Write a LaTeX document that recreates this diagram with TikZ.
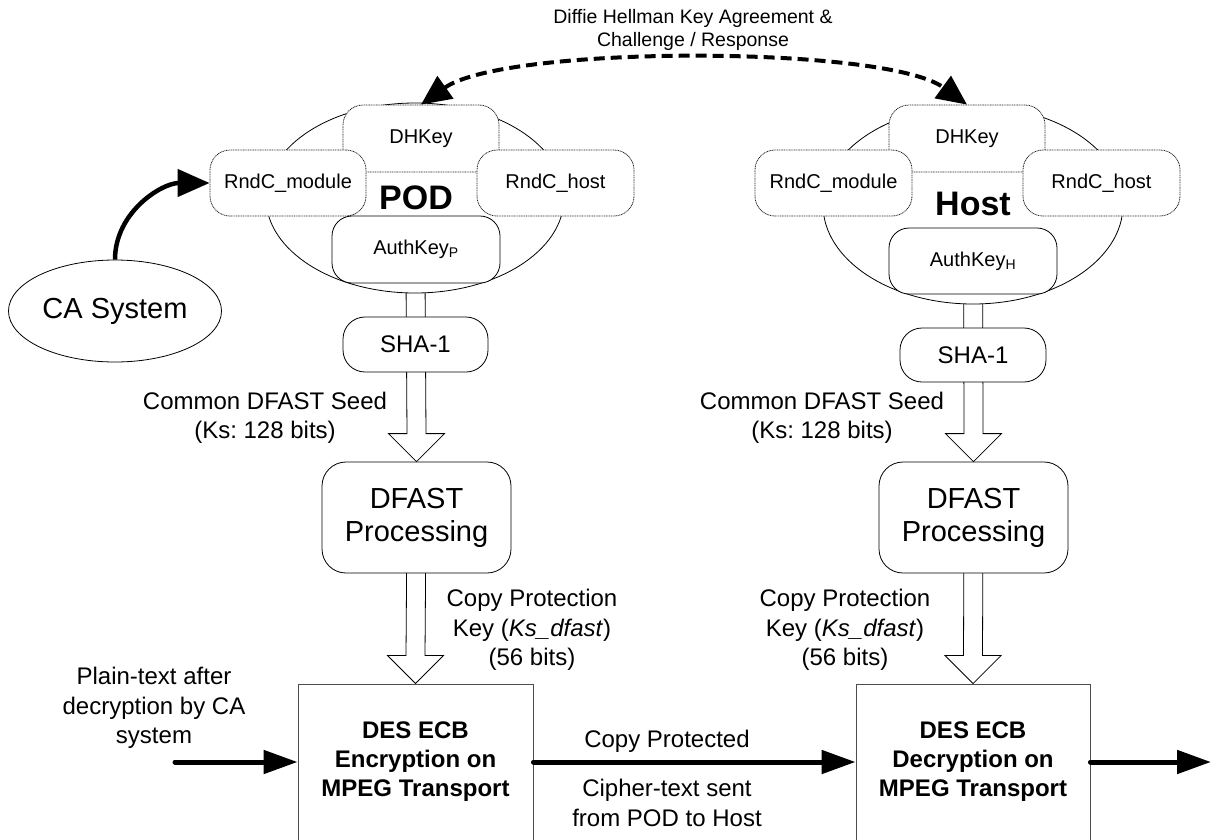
\documentclass[tikz,border=0pt]{standalone}
\usepackage{fontspec}
\setmainfont{Liberation Sans}
\usetikzlibrary{shapes.geometric,arrows.meta,calc,backgrounds}
\frenchspacing
\newcommand\fs[2]{\fontsize{#1}{#2}\selectfont}
\newcommand\hollowarr[2]{%
  \filldraw[fill=white, line width=0.8pt]
    ($(#1)+(-9.5pt,0pt)$) -- ($(#2)+(-9.5pt,28pt)$) -- ($(#2)+(-28pt,28pt)$) -- (#2)
    -- ($(#2)+(28pt,28pt)$) -- ($(#2)+(9.5pt,28pt)$) -- ($(#1)+(9.5pt,0pt)$) -- cycle;}
\begin{document}
\begin{tikzpicture}[x=1pt,y=-1pt,
  rbox/.style={draw, rounded corners=20pt, fill=white, inner sep=0pt, align=center, line width=0.8pt},
  dbox/.style={rbox, dash pattern=on 1pt off 0.7pt, draw=black!85, font=\fs{20}{24}},
  kbox/.style={rbox, font=\fs{20}{24}},
  sq/.style={draw=black!70, fill=white, line width=0.9pt, inner sep=0pt, align=center, font=\bfseries\fs{24}{29}},
  lbl/.style={align=center, inner sep=0pt, font=\fs{24}{29.5}},
  flow/.style={line width=5pt, line cap=round, -{Triangle[length=34pt,width=23pt]}},
  ell/.style={ellipse, draw, fill=white, line width=0.8pt, inner sep=0pt}]
\clip (0,0) rectangle (1211,839);

% POD side
\node[ell, minimum width=298pt, minimum height=190pt] (podell) at (415,198) {};
\node[dbox, minimum width=156pt, minimum height=67pt] (poddh) at (421,138.5) {DHKey};
\node[dbox, minimum width=156pt, minimum height=66pt] (podrm) at (288,183) {RndC\_module};
\node[dbox, minimum width=157pt, minimum height=66pt] (podrh) at (555.5,183) {RndC\_host};
\node[kbox, minimum width=168pt, minimum height=67pt] (podak) at (416,249.5) {AuthKey\textsubscript{P}};
\node[font=\bfseries\fs{34}{40}, inner sep=0pt] (podlbl) at (416,198) {POD};
\node[rbox, rounded corners=22pt, font=\fs{24}{29}, minimum width=145pt, minimum height=55pt] (podsha) at (415.5,344.5) {SHA-1};
\node[rbox, rounded corners=24pt, font=\fs{29}{33}, minimum width=189pt, minimum height=111pt] (poddf) at (416.5,517.5) {DFAST\\Processing};
\node[sq, minimum width=235pt, minimum height=156pt] (podenc) at (415.5,762) {DES ECB\\Encryption on\\MPEG Transport};

% Host side
\node[ell, minimum width=300pt, minimum height=198pt] (hostell) at (973,205) {};
\node[dbox, minimum width=156pt, minimum height=67pt] (hostdh) at (967,138.5) {DHKey};
\node[dbox, minimum width=157pt, minimum height=66pt] (hostrm) at (833.5,183) {RndC\_module};
\node[dbox, minimum width=157pt, minimum height=66pt] (hostrh) at (1101.5,183) {RndC\_host};
\node[kbox, minimum width=168pt, minimum height=66pt] (hostak) at (973,261) {AuthKey\textsubscript{H}};
\node[font=\bfseries\fs{34}{40}, inner sep=0pt] (hostlbl) at (973,203.5) {Host};
\node[rbox, rounded corners=22pt, font=\fs{24}{29}, minimum width=146pt, minimum height=54pt] (hostsha) at (973,355) {SHA-1};
\node[rbox, rounded corners=24pt, font=\fs{29}{33}, minimum width=189pt, minimum height=111pt] (hostdf) at (973.5,517.5) {DFAST\\Processing};
\node[sq, minimum width=234pt, minimum height=156pt] (hostdec) at (973,762) {DES ECB\\Decryption on\\MPEG Transport};

% CA system
\node[ell, minimum width=213pt, minimum height=102pt, font=\fs{29}{34}] (ca) at (115,311) {CA System};

% hollow arrows (behind boxes)
\begin{pgfonlayer}{background}
  \hollowarr{podell.center}{poddf.north}
  \hollowarr{poddf.center}{podenc.north}
  \hollowarr{hostell.center}{hostdf.north}
  \hollowarr{hostdf.center}{hostdec.north}
\end{pgfonlayer}

% labels
\node[lbl] (seedp) at (265,418) {Common DFAST Seed\\(Ks: 128 bits)};
\node[lbl] (seedh) at (822,418) {Common DFAST Seed\\(Ks: 128 bits)};
\node[lbl] (cpkp) at (532,630) {Copy Protection\\Key (\textit{Ks\_dfast})\\(56 bits)};
\node[lbl] (cpkh) at (845,630) {Copy Protection\\Key (\textit{Ks\_dfast})\\(56 bits)};
\node[lbl] (plain) at (154,708) {Plain-text after\\decryption by CA\\system};
\node[lbl, anchor=base] (cprot) at (667,747) {Copy Protected};
\node[lbl] (ciph) at (667,803) {Cipher-text sent\\from POD to Host};
\node[align=center, inner sep=0pt, font=\fs{19.5}{23}] (dh) at (693,30) {Diffie Hellman Key Agreement \&\\Challenge / Response};

% connectors
\coordinate (inp) at (175,762);
\coordinate (outp) at (1211,762);
\draw[flow] (inp) -- (podenc.west);
\draw[flow] (podenc.east) -- (hostdec.west);
\draw[flow] (hostdec.east) -- (outp);
\draw[line width=4.5pt, -{Triangle[length=32pt,width=27pt]}] (ca.north) to[out=90,in=180] (podrm.west);
\draw[line width=4pt, dash pattern=on 11pt off 6pt,
  {Triangle[length=30pt,width=27pt]}-{Triangle[length=30pt,width=27pt]}]
  (poddh.north) .. controls (505,45) and (885,45) .. (hostdh.north);
\end{tikzpicture}
\end{document}
